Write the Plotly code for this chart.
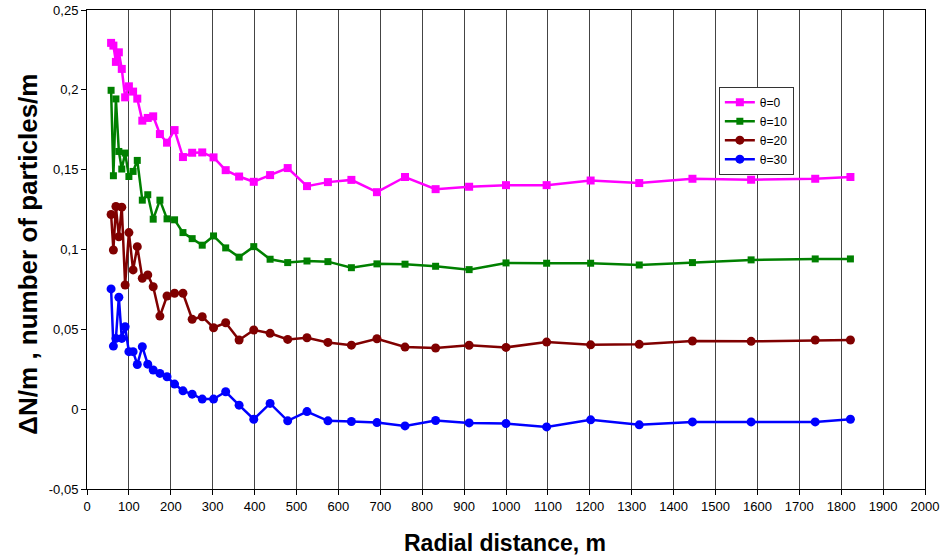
import plotly.graph_objects as go

radial_distance = [57.5, 63, 69, 76, 83, 91, 100, 110, 120, 132, 145, 158, 174, 191, 209,
                   229, 251, 275, 302, 331, 363, 398, 437, 479, 525, 575, 631, 692, 759,
                   832, 912, 1000, 1097, 1202, 1318, 1445, 1585, 1738, 1822]

theta_0 = [0.2294, 0.2277, 0.2175, 0.2235, 0.2131, 0.1953, 0.2022, 0.1989, 0.1945, 0.1807,
           0.1824, 0.1834, 0.1723, 0.1669, 0.1748, 0.1579, 0.1606, 0.1608, 0.1577, 0.1497,
           0.1457, 0.1424, 0.1466, 0.1510, 0.1397, 0.1422, 0.1436, 0.1359, 0.1454, 0.1378,
           0.1393, 0.1403, 0.1403, 0.1432, 0.1416, 0.1443, 0.1437, 0.1443, 0.1454]

theta_10 = [0.1997, 0.1462, 0.1943, 0.1614, 0.1504, 0.1604, 0.1457, 0.1489, 0.1558, 0.1309,
            0.1343, 0.1190, 0.1309, 0.1192, 0.1186, 0.1106, 0.1068, 0.1027, 0.1085, 0.1010,
            0.0952, 0.1018, 0.0939, 0.0918, 0.0928, 0.0924, 0.0886, 0.0910, 0.0908, 0.0895,
            0.0874, 0.0916, 0.0914, 0.0914, 0.0903, 0.0918, 0.0935, 0.0941, 0.0941]

theta_20 = [0.1219, 0.0997, 0.1269, 0.1080, 0.1265, 0.0778, 0.1106, 0.0872, 0.1018, 0.0820,
            0.0841, 0.0767, 0.0583, 0.0709, 0.0726, 0.0726, 0.0563, 0.0579, 0.0510, 0.0541,
            0.0433, 0.0496, 0.0475, 0.0437, 0.0447, 0.0418, 0.0401, 0.0441, 0.0389, 0.0383,
            0.0400, 0.0387, 0.0420, 0.0403, 0.0406, 0.0427, 0.0425, 0.0433, 0.0433]

theta_30 = [0.0753, 0.0395, 0.0443, 0.0701, 0.0443, 0.0516, 0.0360, 0.0360, 0.0280, 0.0391,
            0.0282, 0.0245, 0.0224, 0.0203, 0.0157, 0.0115, 0.0094, 0.0063, 0.0063, 0.0109,
            0.0025, -0.0063, 0.0036, -0.0073, -0.0015, -0.0073, -0.0077, -0.0084, -0.0105, -0.0071,
            -0.0086, -0.0090, -0.0111, -0.0067, -0.0098, -0.0080, -0.0080, -0.0080, -0.0063]

series_names = ["θ=0", "θ=10", "θ=20", "θ=30"]
series_colors = ["#FF00FF", "#008000", "#800000", "#0000FF"]
series_symbols = ["square", "square", "circle", "circle"]
series_sizes = [8, 7, 9, 9]

y_tick_vals = [-0.05, 0, 0.05, 0.1, 0.15, 0.2, 0.25]
y_tick_text = ["-0,05", "0", "0,05", "0,1", "0,15", "0,2", "0,25"]
x_tick_vals = list(range(0, 2001, 100))

fig = go.Figure()
for name, ys, col, sym, sz in zip(series_names, [theta_0, theta_10, theta_20, theta_30],
                                  series_colors, series_symbols, series_sizes):
    fig.add_trace(go.Scatter(
        x=radial_distance, y=ys, name=name, mode="lines+markers",
        line=dict(color=col, width=2.5),
        marker=dict(symbol=sym, size=sz, color=col),
    ))

fig.update_layout(
    width=941, height=556,
    margin=dict(l=87, r=16, t=10, b=67, autoexpand=False),
    paper_bgcolor="white", plot_bgcolor="white",
    font=dict(family="Liberation Sans, Arial, sans-serif", size=13, color="black"),
    showlegend=True,
    legend=dict(x=0.754, y=0.84, xanchor="left", yanchor="top",
                bgcolor="white", bordercolor="#333", borderwidth=1,
                font=dict(size=12), itemwidth=30, tracegroupgap=0),
    annotations=[
        dict(text="<b>Radial distance, m</b>", xref="paper", yref="paper",
             x=0.499, y=-0.112, xanchor="center", yanchor="middle",
             showarrow=False, font=dict(size=23)),
        dict(text="<b>ΔN/m , number of particles/m</b>", xref="paper", yref="paper",
             x=-0.07, y=0.49, xanchor="center", yanchor="middle", textangle=-90,
             showarrow=False, font=dict(size=26)),
    ],
)
fig.update_xaxes(
    range=[0, 2000], tickvals=x_tick_vals, ticktext=[str(v) for v in x_tick_vals],
    showgrid=True, gridcolor="#444", gridwidth=1, automargin=False,
    showline=True, linecolor="black", linewidth=1, mirror=True,
    ticks="outside", ticklen=5, tickcolor="black", zeroline=False,
)
fig.update_yaxes(
    range=[-0.05, 0.25], tickvals=y_tick_vals, ticktext=y_tick_text,
    showgrid=False, showline=True, linecolor="black", linewidth=1, mirror=True,
    ticks="outside", ticklen=5, tickcolor="black", zeroline=False, automargin=False,
)

fig.write_html("out.html", config={"displayModeBar": False},
               post_script="document.body.style.margin='0';document.body.style.overflow='hidden';")
